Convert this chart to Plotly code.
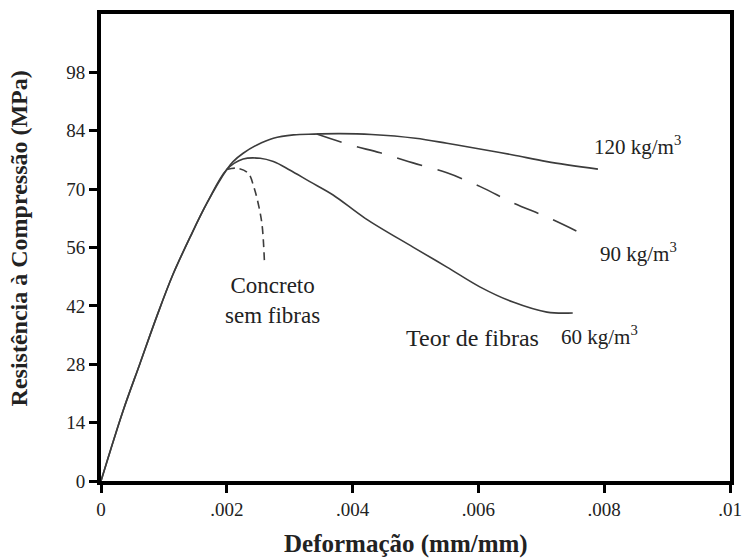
import plotly.graph_objects as go

# Shared ascending branch (strain, stress MPa)
asc_x = [0, 0.00035, 0.00062, 0.00089, 0.00114, 0.00142, 0.00169, 0.0020]
asc_y = [0, 16.8, 28.2, 39.6, 49.4, 58.6, 66.8, 74.7]

# Post-peak branches
f120_x = [0.0021, 0.00226, 0.00248, 0.00274, 0.00306, 0.00338, 0.0038, 0.0043, 0.0050, 0.0055, 0.0060, 0.00655, 0.00709, 0.0079]
f120_y = [76.6, 78.6, 80.6, 82.2, 83.0, 83.2, 83.3, 83.1, 82.2, 81.0, 79.7, 78.2, 76.6, 74.8]

f60_x = [0.00226, 0.00253, 0.00274, 0.0030, 0.00332, 0.00369, 0.0042, 0.00496, 0.0055, 0.00603, 0.00655, 0.00709, 0.0075]
f60_y = [77.2, 77.4, 76.6, 74.6, 71.8, 68.6, 63.0, 56.1, 51.3, 46.5, 42.9, 40.5, 40.3]

f90_x = [0.00343, 0.00396, 0.00444, 0.00496, 0.0055, 0.00603, 0.00655, 0.00709, 0.00762]
f90_y = [83.2, 80.6, 78.7, 76.3, 73.9, 70.6, 66.7, 63.3, 59.5]

c0_x = [0.0020, 0.00216, 0.00234, 0.00243, 0.00250, 0.00256, 0.00260]
c0_y = [74.7, 75.0, 73.8, 70.5, 66.5, 61.5, 52.0]

x_ticks = [0, 0.002, 0.004, 0.006, 0.008, 0.01]
x_ticktext = ["0", ".002", ".004", ".006", ".008", ".01"]
y_ticks = [0, 14, 28, 42, 56, 70, 84, 98]

LINE = "#3c3c3c"
SERIF = "Liberation Serif, Times New Roman, serif"
TXT = "#222222"

fig = go.Figure()
fig.add_trace(go.Scatter(x=asc_x + f120_x, y=asc_y + f120_y, mode="lines",
                         line=dict(color=LINE, width=1.6, shape="spline", smoothing=1.0),
                         name="120 kg/m3"))
fig.add_trace(go.Scatter(x=asc_x + f60_x, y=asc_y + f60_y, mode="lines",
                         line=dict(color=LINE, width=1.6, shape="spline", smoothing=1.0),
                         name="60 kg/m3"))
fig.add_trace(go.Scatter(x=f90_x, y=f90_y, mode="lines",
                         line=dict(color=LINE, width=1.6, shape="spline", smoothing=1.0,
                                   dash="26px,16px"),
                         name="90 kg/m3"))
fig.add_trace(go.Scatter(x=c0_x, y=c0_y, mode="lines",
                         line=dict(color=LINE, width=1.6, shape="spline", smoothing=1.0,
                                   dash="8px,5px"),
                         name="Concreto sem fibras"))

ann = [
    dict(x=0.00273, y=43.4, text="Concreto<br>sem fibras", xanchor="center", yanchor="middle",
         font=dict(size=23, family=SERIF, color=TXT)),
    dict(x=0.0078, y=80.5, text="120 kg/m<sup>3</sup>", xanchor="left", yanchor="middle",
         font=dict(size=21, family=SERIF, color=TXT)),
    dict(x=0.0079, y=54.8, text="90 kg/m<sup>3</sup>", xanchor="left", yanchor="middle",
         font=dict(size=21, family=SERIF, color=TXT)),
    dict(x=0.00482, y=34.3, text="Teor de fibras", xanchor="left", yanchor="middle",
         font=dict(size=24, family=SERIF, color=TXT)),
    dict(x=0.00728, y=34.9, text="60 kg/m<sup>3</sup>", xanchor="left", yanchor="middle",
         font=dict(size=21, family=SERIF, color=TXT)),
    dict(x=-0.13, y=0.52, xref="paper", yref="paper", text="<b>Resistência à Compressão (MPa)</b>",
         textangle=-90, xanchor="center", yanchor="middle",
         font=dict(size=24, family=SERIF, color=TXT)),
    dict(x=0.485, y=-0.134, xref="paper", yref="paper", text="<b>Deformação (mm/mm)</b>",
         xanchor="center", yanchor="middle",
         font=dict(size=25, family=SERIF, color=TXT)),
]
for a in ann:
    a.setdefault("xref", "x")
    a.setdefault("yref", "y")
    a["showarrow"] = False

fig.update_layout(
    width=744, height=560, autosize=False,
    margin=dict(l=101, r=14, t=14, b=79),
    paper_bgcolor="white", plot_bgcolor="white",
    showlegend=False,
    annotations=ann,
    font=dict(family=SERIF, color=TXT),
    xaxis=dict(range=[0, 0.01], tickvals=x_ticks, ticktext=x_ticktext, automargin=False,
               showgrid=False, zeroline=False, showline=True, linewidth=4, linecolor="black",
               mirror=True, ticks="outside", ticklen=8, tickwidth=3, tickcolor="black",
               tickfont=dict(size=19, family=SERIF, color=TXT)),
    yaxis=dict(range=[0, 112], tickvals=y_ticks, automargin=False,
               showgrid=False, zeroline=False, showline=True, linewidth=4, linecolor="black",
               mirror=True, ticks="outside", ticklen=8, tickwidth=3, tickcolor="black",
               tickfont=dict(size=19, family=SERIF, color=TXT)),
)

fig.write_html("out.html", config={"displayModeBar": False},
               post_script="document.body.style.margin='0px';")
